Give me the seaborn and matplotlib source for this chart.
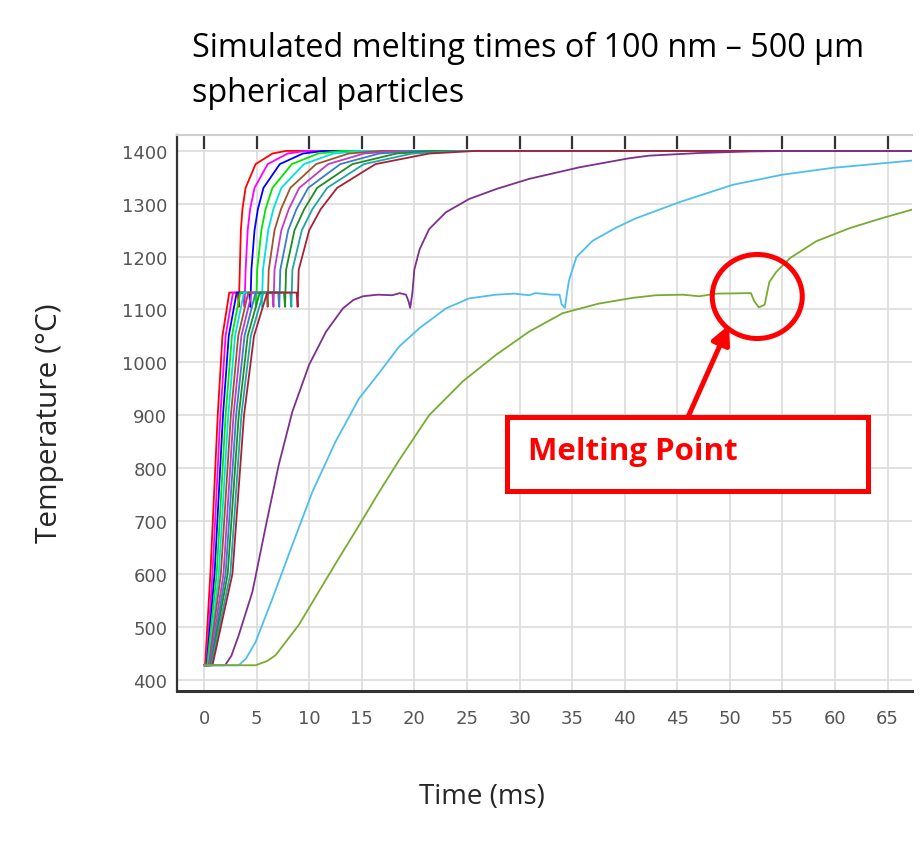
import pandas as pd
import matplotlib.pyplot as plt
import seaborn as sns
from matplotlib.patches import Ellipse, Rectangle, FancyArrowPatch

# Fast curves (100 nm ... ~50 um particles).
# Every fast curve shares the same temperature steps, times differ per curve.
FAST_TEMPS = [427, 427, 600, 900, 1050, 1132, 1132, 1105, 1175, 1250, 1290, 1330, 1375, 1395, 1400, 1400]
FAST_TIMES = [
    [0, 0.10, 0.60, 1.30, 1.75, 2.40, 3.20, 3.30, 3.40, 3.50, 3.65, 3.95, 4.90, 6.50, 7.80, 67.5],
    [0, 0.20, 0.80, 1.55, 2.05, 2.75, 3.75, 3.85, 3.95, 4.15, 4.38, 4.80, 6.05, 7.95, 9.65, 67.5],
    [0, 0.25, 1.00, 1.80, 2.35, 3.10, 4.30, 4.40, 4.50, 4.80, 5.12, 5.65, 7.20, 9.40, 11.4, 67.5],
    [0, 0.30, 1.20, 2.05, 2.65, 3.45, 4.85, 4.95, 5.05, 5.45, 5.85, 6.50, 8.35, 10.85, 13.15, 67.5],
    [0, 0.40, 1.40, 2.30, 2.95, 3.80, 5.40, 5.50, 5.60, 6.10, 6.59, 7.35, 9.50, 12.30, 15.0, 67.5],
    [0, 0.45, 1.60, 2.55, 3.25, 4.20, 5.95, 6.05, 6.15, 6.70, 7.32, 8.20, 10.65, 13.75, 16.85, 67.5],
    [0, 0.50, 1.85, 2.80, 3.55, 4.55, 6.50, 6.60, 6.70, 7.35, 8.06, 9.05, 11.80, 15.20, 18.6, 67.5],
    [0, 0.60, 2.05, 3.05, 3.85, 4.90, 7.05, 7.15, 7.25, 8.00, 8.79, 9.90, 12.95, 16.65, 20.35, 67.5],
    [0, 0.65, 2.25, 3.30, 4.15, 5.30, 7.60, 7.70, 7.80, 8.60, 9.53, 10.75, 14.10, 18.30, 22.2, 67.5],
    [0, 0.70, 2.50, 3.55, 4.45, 5.65, 8.20, 8.30, 8.40, 9.30, 10.31, 11.70, 15.20, 19.80, 24.1, 67.5],
    [0, 0.80, 2.70, 3.80, 4.75, 6.00, 8.80, 8.90, 9.00, 10.00, 11.10, 12.65, 16.30, 21.40, 25.9, 67.5],
]
FAST_COLORS = ["#ff0000", "#ff00ff", "#0000ff", "#00e600", "#00e0e0", "#a0522d",
               "#c03cc0", "#3a7cc8", "#1e8c1e", "#1fa5a5", "#a82038"]

# Slow curves (larger particles)
PURPLE_T = [0, 2.0, 2.6, 3.3, 4.6, 5.9, 7.1, 8.4, 10.0, 11.6, 13.2, 14.2, 15.1, 16.5, 17.9, 18.6,
            19.2, 19.45, 19.6, 19.8, 20.0, 20.5, 21.4, 23.0, 25.2, 27.8, 30.9, 35.7, 40.4, 42.3,
            47.1, 51.9, 56.0, 67.5]
PURPLE_Y = [427, 427, 445, 484, 566, 693, 806, 907, 996, 1058, 1102, 1118, 1125, 1128, 1127, 1131,
            1128, 1115, 1103, 1130, 1176, 1214, 1252, 1284, 1309, 1328, 1347, 1369, 1386, 1391,
            1396, 1399, 1400, 1400]

BLUE_T = [0, 3.3, 4.0, 4.9, 6.5, 8.4, 10.3, 12.5, 14.75, 16.65, 18.55, 20.5, 23.0, 25.2, 27.75,
          29.5, 30.9, 31.5, 33.1, 33.8, 34.0, 34.3, 34.5, 34.7, 35.4, 36.95, 39.2, 41.0, 45.2,
          50.3, 55.0, 59.8, 67.5]
BLUE_Y = [427, 427, 440, 471, 553, 655, 755, 850, 932, 980, 1030, 1065, 1102, 1121, 1128,
          1130, 1127, 1131, 1128, 1128, 1110, 1103, 1130, 1155, 1199, 1230, 1255, 1272, 1303,
          1336, 1355, 1368, 1382]

GREEN_T = [0, 4.9, 6.0, 6.8, 9.0, 10.9, 12.8, 14.75, 16.65, 18.55, 21.4, 24.6, 27.75, 30.9,
           34.1, 37.5, 40.75, 43.0, 45.5, 47.1, 48.7, 52.0, 52.3, 52.75, 53.3, 53.75, 54.4,
           55.7, 58.2, 61.4, 64.5, 67.5]
GREEN_Y = [427, 427, 435, 446, 503, 566, 629, 692, 755, 815, 900, 964, 1014, 1058,
           1093, 1111, 1122, 1127, 1128, 1125, 1130, 1131, 1116, 1104, 1109, 1152, 1171,
           1197, 1229, 1254, 1273, 1290]

SLOW_COLORS = {"purple": "#7E2F8E", "blue": "#4DBEEE", "green": "#77AC30"}

X_TICKS = list(range(0, 70, 5))
Y_TICKS = list(range(400, 1500, 100))

# long table for seaborn
rows = []
for i, times in enumerate(FAST_TIMES):
    for t, y in zip(times, FAST_TEMPS):
        rows.append((f"fast{i}", t, y))
for name, ts, ys in [("purple", PURPLE_T, PURPLE_Y), ("blue", BLUE_T, BLUE_Y), ("green", GREEN_T, GREEN_Y)]:
    for t, y in zip(ts, ys):
        rows.append((name, t, y))
df = pd.DataFrame(rows, columns=["curve", "time", "temp"])

palette = {f"fast{i}": c for i, c in enumerate(FAST_COLORS)}
palette.update(SLOW_COLORS)

sns.set_theme(style="white")
plt.rcParams["font.family"] = ["DejaVu Sans"]
TXT_FONT = ["Open Sans", "DejaVu Sans"]

fig = plt.figure(figsize=(9.22, 8.45), dpi=100)
ax = fig.add_axes([0.192, 0.1815, 0.797, 0.6575])

sns.lineplot(data=df, x="time", y="temp", hue="curve", palette=palette, estimator=None,
             sort=False, legend=False, lw=1.3, ax=ax)

ax.set_xlim(-2.57, 67.3)
ax.set_ylim(379, 1430)
ax.set_xticks(X_TICKS)
ax.set_yticks(Y_TICKS)
ax.set_xlabel("")
ax.set_ylabel("")
ax.grid(True, color="#dcdcdc", lw=1.2)
ax.set_axisbelow(True)

for s in ["left", "bottom"]:
    ax.spines[s].set_color("#333333")
ax.spines["left"].set_linewidth(1.6)
ax.spines["bottom"].set_linewidth(2.2)
ax.spines["top"].set_color("#cfcfcf")
ax.spines["top"].set_linewidth(1.5)
ax.spines["right"].set_visible(False)

ax.tick_params(axis="both", direction="in", length=10, width=1.6, color="#333333",
               labelsize=13, labelcolor="#555555")
ax.tick_params(axis="x", top=True, pad=13)
ax.tick_params(axis="y", pad=7)

# titles / labels
fig.text(192 / 922, 1 - 57 / 845, "Simulated melting times of 100 nm \u2013 500 \u00b5m",
         ha="left", va="baseline", fontsize=23.3, family=TXT_FONT, color="black")
fig.text(192 / 922, 1 - 101.5 / 845, "spherical particles",
         ha="left", va="baseline", fontsize=23.3, family=TXT_FONT, color="black")
fig.text(50 / 922, 1 - 423 / 845, "Temperature (\u00b0C)", rotation=90, ha="center", va="center",
         fontsize=21.5, family=TXT_FONT)
fig.text(482 / 922, 1 - 797 / 845, "Time (ms)", ha="center", va="center",
         fontsize=20, family=TXT_FONT)

# annotation: circle, arrow, box
ax.add_patch(Ellipse((52.6, 1124.6), 8.56, 159, fill=False, ec="red", lw=3.6, zorder=5))
fig.add_artist(Rectangle((507 / 922, 1 - 492 / 845), 361 / 922, 74 / 845, transform=fig.transFigure,
                         facecolor="white", edgecolor="red", lw=3.6, zorder=5))
fig.add_artist(FancyArrowPatch((688 / 922, 1 - 418 / 845), (729 / 922, 1 - 326 / 845),
                               transform=fig.transFigure, arrowstyle="-|>", mutation_scale=28,
                               lw=3.6, color="red", shrinkA=0, shrinkB=0, zorder=6))
fig.text(528 / 922, 1 - 452 / 845, "Melting Point", ha="left", va="center", fontsize=22.5,
         weight="bold", color="red", family=TXT_FONT, zorder=7)

fig.savefig("out.png", dpi=100)
